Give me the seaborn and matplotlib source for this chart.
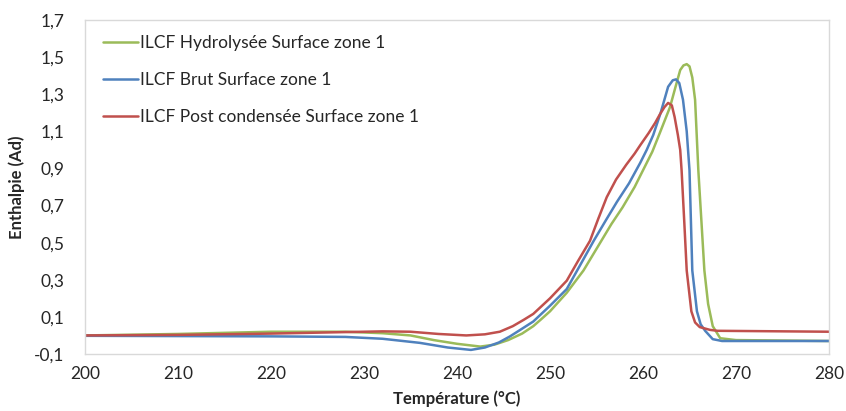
import pandas as pd
import matplotlib
matplotlib.use('Agg')
import matplotlib.pyplot as plt
import seaborn as sns
from matplotlib.ticker import FuncFormatter

# Valeurs
temp_hydro = [200, 210, 220, 228, 232, 235, 237.5, 240, 242.5, 244, 245.5, 247, 248.2, 249,
              250, 251.8, 252.7, 253.6, 254.5, 255.4, 256.6, 257.8, 259.1, 260, 261, 261.8,
              262.9, 263.5, 264.0, 264.35, 264.7, 265.0, 265.3, 265.6, 265.95, 266.3, 266.6,
              267.0, 267.5, 268.3, 270, 280]
enth_hydro = [0.0, 0.008, 0.02, 0.02, 0.012, 0.0, -0.025, -0.045, -0.06, -0.05, -0.025, 0.01,
              0.05, 0.085, 0.13, 0.23, 0.29, 0.35, 0.425, 0.5, 0.6, 0.69, 0.8, 0.89, 0.99, 1.09,
              1.23, 1.34, 1.43, 1.455, 1.462, 1.45, 1.39, 1.27, 0.89, 0.6, 0.35, 0.17, 0.05,
              -0.015, -0.025, -0.03]

temp_brut = [200, 220, 228, 232, 236, 239, 241.5, 243, 244.5, 245.7, 246.8, 248.2, 250, 251.8,
             253.2, 254.7, 256, 257.2, 258.5, 259.7, 260.4, 261.1, 261.9, 262.7, 263.2, 263.55,
             263.9, 264.3, 264.7, 265.0, 265.3, 265.8, 266.2, 266.7, 267.5, 268.5, 280]
enth_brut = [-0.002, -0.005, -0.008, -0.018, -0.04, -0.065, -0.078, -0.065, -0.038, -0.005,
             0.03, 0.075, 0.16, 0.25, 0.375, 0.51, 0.62, 0.72, 0.82, 0.93, 1.0, 1.08, 1.2,
             1.34, 1.375, 1.38, 1.36, 1.27, 1.1, 0.89, 0.35, 0.13, 0.06, 0.024, -0.02, -0.03,
             -0.03]

temp_post = [200, 210, 220, 228, 232, 235, 238, 241, 243, 244.6, 246, 247.2, 248.2, 250,
             251.8, 253, 254.3, 255.2, 256.1, 257.1, 258.2, 259.1, 259.7, 260.6, 261.3, 261.8,
             262.3, 262.7, 263.1, 263.4, 263.75, 264.0, 264.15, 264.45, 264.7, 265.2, 265.6,
             266.1, 267.2, 268, 280]
enth_post = [0.0, 0.003, 0.01, 0.018, 0.022, 0.02, 0.008, 0.0, 0.006, 0.02, 0.05, 0.085, 0.116,
             0.2, 0.295, 0.4, 0.51, 0.63, 0.745, 0.84, 0.92, 0.98, 1.025, 1.09, 1.145, 1.19,
             1.23, 1.253, 1.24, 1.177, 1.08, 1.0, 0.89, 0.6, 0.35, 0.13, 0.07, 0.045, 0.03,
             0.025, 0.02]

series = [
    ('ILCF Hydrolysée Surface zone 1', temp_hydro, enth_hydro, '#9BBB59'),
    ('ILCF Brut Surface zone 1', temp_brut, enth_brut, '#4F81BD'),
    ('ILCF Post condensée Surface zone 1', temp_post, enth_post, '#C0504D'),
]

sns.set_style('white')
plt.rcParams['font.family'] = ['Lato', 'DejaVu Sans']

fig = plt.figure(figsize=(8.46, 4.11), dpi=100)
ax = fig.add_axes([0.1005, 0.1387, 0.8794, 0.8127])

for nom, t, h, couleur in series:
    df = pd.DataFrame({'temp': t, 'enth': h})
    sns.lineplot(data=df, x='temp', y='enth', color=couleur, linewidth=1.8,
                 label=nom, ax=ax, estimator=None)

ax.set_xlim(200, 280)
ax.set_ylim(-0.1, 1.7)
ax.set_xticks(range(200, 281, 10))
ax.set_yticks([-0.1, 0.1, 0.3, 0.5, 0.7, 0.9, 1.1, 1.3, 1.5, 1.7])
ax.yaxis.set_major_formatter(FuncFormatter(lambda v, p: f'{v:.1f}'.replace('.', ',')))
ax.tick_params(axis='both', length=0, labelsize=12.5, colors='#262626')
ax.tick_params(axis='y', pad=15)
ax.tick_params(axis='x', pad=9)

for s in ax.spines.values():
    s.set_color('#D9D9D9')
    s.set_linewidth(1.0)

ax.set_xlabel('Température (°C)', fontsize=12, fontweight='bold', color='#262626', labelpad=6)
ax.set_ylabel('Enthalpie (Ad)', fontsize=12, fontweight='bold', color='#262626', labelpad=6)

ax.legend(loc='upper left', bbox_to_anchor=(0.015, 0.975), frameon=False, fontsize=12.5,
          handlelength=2.0, handletextpad=0.1, labelspacing=1.2, borderaxespad=0,
          labelcolor='#262626')

fig.savefig('out.png', dpi=100)
